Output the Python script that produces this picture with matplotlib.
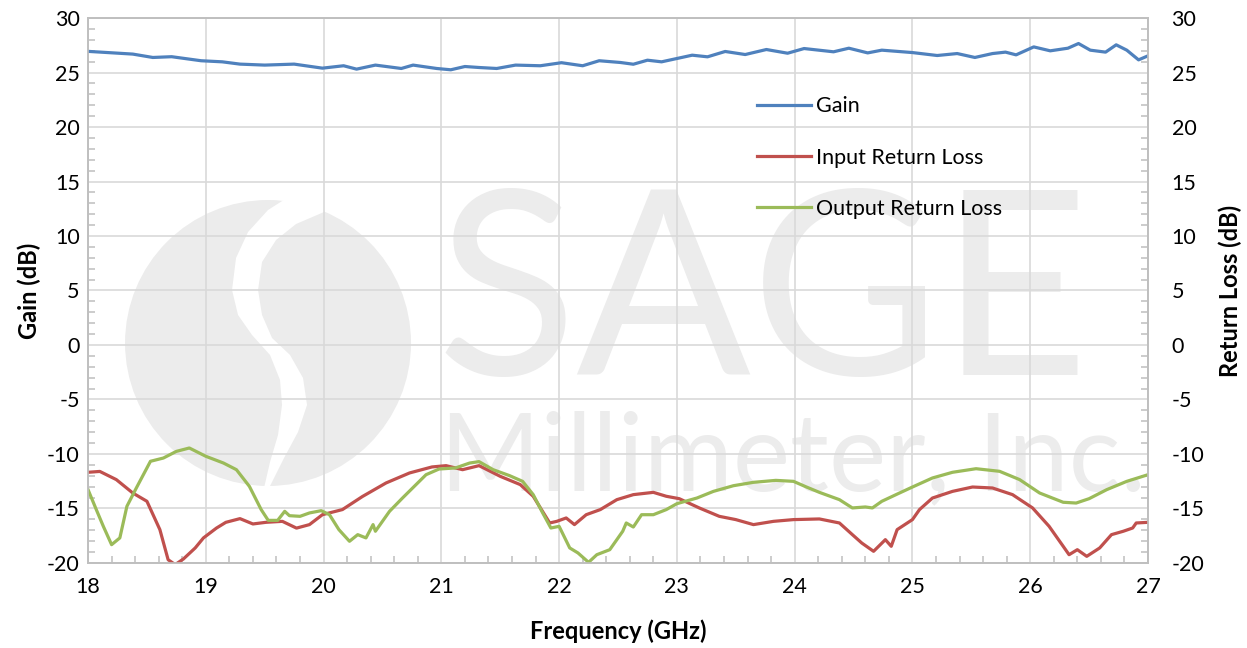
import matplotlib.pyplot as plt
import numpy as np
from matplotlib.ticker import MultipleLocator
from matplotlib.patches import Ellipse, Polygon

# Gain (dB) vs frequency (GHz)
gain_freq = [18.0, 18.38, 18.55, 18.71, 18.96, 19.14, 19.29, 19.5, 19.75, 19.99,
             20.17, 20.28, 20.44, 20.66, 20.76, 20.96, 21.08, 21.2, 21.32, 21.47,
             21.63, 21.84, 22.02, 22.2, 22.34, 22.52, 22.63, 22.75, 22.87, 23.13,
             23.26, 23.41, 23.58, 23.76, 23.94, 24.08, 24.33, 24.46, 24.62, 24.74,
             25.0, 25.21, 25.38, 25.53, 25.68, 25.79, 25.88, 26.03, 26.17, 26.32,
             26.41, 26.51, 26.64, 26.73, 26.82, 26.92, 27.0]
gain = [26.94, 26.69, 26.38, 26.45, 26.08, 25.98, 25.77, 25.68, 25.77, 25.4,
        25.62, 25.31, 25.68, 25.37, 25.68, 25.37, 25.25, 25.55, 25.46, 25.37,
        25.68, 25.62, 25.9, 25.62, 26.08, 25.92, 25.76, 26.13, 25.98, 26.59,
        26.44, 26.93, 26.65, 27.11, 26.77, 27.2, 26.9, 27.23, 26.8, 27.05,
        26.83, 26.56, 26.74, 26.38, 26.74, 26.87, 26.62, 27.35, 26.99, 27.23,
        27.66, 27.05, 26.87, 27.54, 27.05, 26.16, 26.53]

# Input return loss (dB)
irl_freq = [18.0, 18.1, 18.24, 18.38, 18.5, 18.61, 18.68, 18.74, 18.81, 18.91,
            18.98, 19.09, 19.17, 19.29, 19.4, 19.51, 19.65, 19.77, 19.88, 19.99,
            20.16, 20.33, 20.53, 20.73, 20.92, 21.04, 21.18, 21.32, 21.5, 21.67,
            21.78, 21.92, 21.98, 22.06, 22.13, 22.23, 22.35, 22.49, 22.63, 22.8,
            22.91, 23.02, 23.19, 23.36, 23.5, 23.65, 23.82, 23.99, 24.21, 24.38,
            24.49, 24.57, 24.67, 24.77, 24.82, 24.87, 25.0, 25.06, 25.17, 25.34,
            25.51, 25.68, 25.85, 26.02, 26.16, 26.28, 26.33, 26.4, 26.48, 26.59,
            26.69, 26.79, 26.87, 26.9, 27.0]
irl = [-11.68, -11.6, -12.35, -13.58, -14.34, -16.94, -19.7, -20.15, -19.63, -18.62,
       -17.7, -16.8, -16.27, -15.93, -16.42, -16.27, -16.18, -16.8, -16.48, -15.57,
       -15.1, -13.9, -12.66, -11.74, -11.19, -11.07, -11.44, -11.07, -12.05, -12.81,
       -13.88, -16.33, -16.18, -15.87, -16.48, -15.57, -15.1, -14.19, -13.73, -13.52,
       -13.88, -14.1, -14.95, -15.72, -16.02, -16.48, -16.18, -16.02, -15.96, -16.33,
       -17.4, -18.17, -18.93, -17.86, -18.47, -16.94, -16.02, -15.1, -14.04, -13.43,
       -13.03, -13.12, -13.73, -14.95, -16.63, -18.47, -19.24, -18.78, -19.39, -18.62,
       -17.4, -17.09, -16.79, -16.33, -16.27]

# Output return loss (dB)
orl_freq = [18.0, 18.07, 18.13, 18.2, 18.27, 18.33, 18.41, 18.53, 18.64, 18.75,
            18.86, 19.0, 19.15, 19.26, 19.37, 19.47, 19.53, 19.61, 19.67, 19.71,
            19.8, 19.88, 19.98, 20.05, 20.13, 20.22, 20.29, 20.36, 20.42, 20.44,
            20.56, 20.67, 20.87, 20.98, 21.12, 21.24, 21.32, 21.44, 21.58, 21.69,
            21.78, 21.86, 21.93, 22.0, 22.09, 22.16, 22.25, 22.32, 22.43, 22.49,
            22.54, 22.57, 22.63, 22.7, 22.8, 22.91, 23.0, 23.17, 23.31, 23.48,
            23.65, 23.84, 23.99, 24.1, 24.21, 24.38, 24.49, 24.6, 24.66, 24.74,
            24.89, 25.0, 25.17, 25.34, 25.54, 25.74, 25.91, 26.08, 26.28, 26.39,
            26.5, 26.65, 26.82, 27.0]
orl = [-13.27, -15.1, -16.64, -18.32, -17.7, -14.8, -13.12, -10.67, -10.37, -9.76,
       -9.45, -10.21, -10.83, -11.44, -12.97, -15.1, -16.09, -16.09, -15.26, -15.66,
       -15.72, -15.41, -15.2, -15.57, -16.94, -18.01, -17.4, -17.7, -16.48, -17.09,
       -15.26, -14.04, -11.9, -11.38, -11.28, -10.83, -10.7, -11.44, -11.99, -12.51,
       -13.73, -15.4, -16.79, -16.64, -18.62, -19.08, -19.94, -19.24, -18.78, -17.86,
       -17.09, -16.33, -16.7, -15.57, -15.57, -15.1, -14.56, -14.04, -13.43, -12.91,
       -12.6, -12.42, -12.51, -13.03, -13.52, -14.19, -14.95, -14.86, -14.95, -14.34,
       -13.58, -13.03, -12.2, -11.68, -11.35, -11.59, -12.35, -13.58, -14.43, -14.5,
       -14.1, -13.27, -12.51, -11.9]

xticks = [18, 19, 20, 21, 22, 23, 24, 25, 26, 27]
yticks = [-20, -15, -10, -5, 0, 5, 10, 15, 20, 25, 30]

plt.rcParams['font.family'] = ['Lato', 'DejaVu Sans']
plt.rcParams['axes.unicode_minus'] = False

fig = plt.figure(figsize=(12.47, 6.48), dpi=100)
ax = fig.add_axes([0.0706, 0.1312, 0.85, 0.841])
ax2 = ax.twinx()

# watermark (logo + company name), faint grey behind the grid
wm = '#ececec'
W, H = 1060.0, 545.0
def px(x, y):
    return ((x - 88) / W, (563 - y) / H)

ax.add_patch(Ellipse(px(268, 343), 286 / W, 286 / H, transform=ax.transAxes,
                     color=wm, lw=0, zorder=0.1))
s_left = [(290, 196), (268, 210), (248, 232), (236, 258), (232, 290), (238, 315),
          (252, 335), (270, 355), (280, 380), (282, 405), (278, 435), (270, 462), (264, 488)]
s_right = [(270, 486), (284, 458), (298, 432), (307, 405), (303, 378), (290, 355),
           (272, 338), (262, 315), (258, 290), (262, 262), (276, 240), (296, 224), (324, 212), (326, 194)]
ax.add_patch(Polygon([px(x, y) for x, y in s_left + s_right], closed=True,
                     transform=ax.transAxes, color='white', lw=0, zorder=0.15))
ax.text(*px(436, 375), 'SAGE', transform=ax.transAxes,
        fontsize=186, color=wm, ha='left', va='baseline', zorder=0.2)
ax.text(*px(440, 490), 'Millimeter, Inc.', transform=ax.transAxes,
        fontsize=78, color=wm, ha='left', va='baseline', zorder=0.2)

l1, = ax.plot(gain_freq, gain, color='#4f81bd', lw=2.3, label='Gain', zorder=3)
l2, = ax2.plot(irl_freq, irl, color='#c0504d', lw=2.3, label='Input Return Loss')
l3, = ax2.plot(orl_freq, orl, color='#9bbb59', lw=2.3, label='Output Return Loss')

for a in (ax, ax2):
    a.set_xlim(18, 27)
    a.set_ylim(-20, 30)
    a.set_yticks(yticks)
    a.yaxis.set_minor_locator(MultipleLocator(1))
    for s in a.spines.values():
        s.set_color('#bfbfbf')
        s.set_linewidth(1.2)

ax.set_xticks(xticks)
ax.xaxis.set_minor_locator(MultipleLocator(0.2))
ax.set_axisbelow(True)
ax.grid(True, which='major', color='#d9d9d9', lw=1.2, zorder=0.5)

ax.tick_params(which='major', length=0, labelsize=15.5, pad=6)
ax.tick_params(which='minor', direction='in', length=5, color='#bfbfbf', width=1.1)
ax.tick_params(axis='x', pad=10)
ax2.tick_params(which='major', length=0, labelsize=15.5, pad=17)
ax2.tick_params(which='minor', direction='in', length=5, color='#bfbfbf', width=1.1)

ax.set_xlabel('Frequency (GHz)', fontsize=17, fontweight='bold', labelpad=16)
ax.set_ylabel('Gain (dB)', fontsize=17, fontweight='bold', labelpad=4)
ax2.set_ylabel('Return Loss (dB)', fontsize=17, fontweight='bold', labelpad=10)

ax2.legend(handles=[l1, l2, l3], loc='upper left', bbox_to_anchor=(0.621, 0.876),
           frameon=False, fontsize=15.5, handlelength=2.5, handletextpad=0.25,
           labelspacing=1.45, borderpad=0)

plt.savefig('out.png', dpi=100)
